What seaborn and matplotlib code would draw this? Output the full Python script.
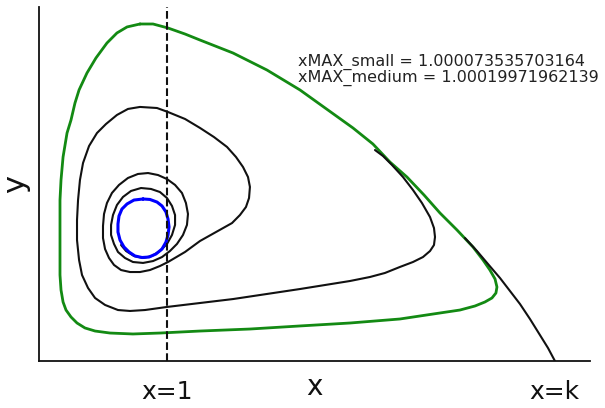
import numpy as np
import pandas as pd
import matplotlib
matplotlib.use("Agg")
import matplotlib.pyplot as plt
import seaborn as sns

# Carrying capacity and prey level of the vertical isocline
K = 4.03
X_ISO = 1.0

# Stable limit cycle (green)
cycle_x = [0.789, 0.891, 1.008, 1.141, 1.258, 1.516, 1.781, 2.039, 2.453, 2.609,
           2.742, 2.875, 3.008, 3.133, 3.266, 3.391, 3.469, 3.523, 3.563, 3.578,
           3.570, 3.539, 3.484, 3.406, 3.289, 3.078, 2.820, 2.430, 2.039, 1.648,
           1.258, 0.945, 0.734, 0.555, 0.438, 0.359, 0.297, 0.250, 0.211, 0.188,
           0.172, 0.164, 0.164, 0.164, 0.164, 0.172, 0.188, 0.219, 0.250, 0.281,
           0.313, 0.375, 0.445, 0.531, 0.609, 0.688, 0.789]
cycle_y = [2.856, 2.856, 2.822, 2.771, 2.720, 2.610, 2.466, 2.297, 1.975, 1.839,
           1.686, 1.559, 1.407, 1.254, 1.110, 0.966, 0.856, 0.771, 0.695, 0.627,
           0.576, 0.534, 0.500, 0.466, 0.432, 0.398, 0.356, 0.322, 0.297, 0.271,
           0.254, 0.237, 0.229, 0.237, 0.254, 0.280, 0.322, 0.373, 0.432, 0.500,
           0.602, 0.729, 0.941, 1.153, 1.364, 1.534, 1.729, 1.932, 2.042, 2.186,
           2.297, 2.441, 2.568, 2.695, 2.780, 2.831, 2.856]

# Trajectory spiralling inwards onto the small cycle (black)
spiral_x = [2.625, 2.688, 2.758, 2.844, 2.922, 2.992, 3.055, 3.086, 3.094, 3.086,
            3.055, 3.000, 2.922, 2.820, 2.703, 2.586, 2.430, 2.039, 1.516, 1.000,
            0.828, 0.711, 0.617, 0.516, 0.438, 0.383, 0.336, 0.313, 0.297, 0.297,
            0.305, 0.320, 0.344, 0.391, 0.453, 0.523, 0.609, 0.695, 0.789, 0.922,
            1.008, 1.141, 1.258, 1.367, 1.469, 1.539, 1.594, 1.633, 1.648, 1.641,
            1.617, 1.570, 1.508, 1.383, 1.258, 1.141, 1.008,
            0.945, 0.867, 0.789, 0.711, 0.641, 0.586, 0.547, 0.516, 0.500, 0.500,
            0.508, 0.531, 0.570, 0.625, 0.695, 0.773, 0.852, 0.930, 1.000, 1.063,
            1.117, 1.148, 1.164, 1.156, 1.125, 1.078, 1.023, 0.961, 0.891, 0.813,
            0.734, 0.672, 0.617, 0.586, 0.563, 0.563, 0.578, 0.609, 0.656, 0.719,
            0.797, 0.875, 0.945, 1.000, 1.039, 1.063, 1.063, 1.039, 1.000, 0.945,
            0.883, 0.813, 0.742, 0.680, 0.641]
spiral_y = [1.788, 1.737, 1.661, 1.559, 1.449, 1.339, 1.220, 1.127, 1.051, 0.983,
            0.932, 0.881, 0.839, 0.797, 0.746, 0.712, 0.678, 0.610, 0.525, 0.458,
            0.432, 0.424, 0.432, 0.475, 0.534, 0.619, 0.729, 0.856, 1.025, 1.195,
            1.364, 1.534, 1.678, 1.822, 1.932, 2.008, 2.085, 2.136, 2.153, 2.144,
            2.110, 2.051, 1.975, 1.898, 1.814, 1.729, 1.644, 1.559, 1.475, 1.381,
            1.305, 1.237, 1.169, 1.093, 1.017, 0.924, 0.839,
            0.805, 0.771, 0.754, 0.754, 0.771, 0.814, 0.873, 0.949, 1.042, 1.144,
            1.246, 1.339, 1.424, 1.492, 1.551, 1.585, 1.593, 1.576, 1.542, 1.492,
            1.424, 1.339, 1.246, 1.153, 1.068, 0.992, 0.932, 0.881, 0.847, 0.831,
            0.839, 0.873, 0.924, 0.992, 1.068, 1.153, 1.237, 1.322, 1.390, 1.441,
            1.466, 1.458, 1.432, 1.381, 1.314, 1.237, 1.153, 1.068, 0.992, 0.932,
            0.890, 0.873, 0.890, 0.932, 0.983]

# Trajectory leaving the cycle towards (K, 0) (black)
branch_x = [3.328, 3.422, 3.508, 3.602, 3.680, 3.758, 3.836, 3.914, 3.977, 4.031]
branch_y = [1.042, 0.932, 0.822, 0.703, 0.593, 0.483, 0.356, 0.220, 0.110, 0.000]

# Small inner cycle (blue)
inner_x = [0.813, 0.867, 0.922, 0.961, 0.992, 1.008, 1.016, 1.008, 0.992, 0.961,
           0.914, 0.859, 0.805, 0.750, 0.703, 0.664, 0.633, 0.617, 0.617, 0.625,
           0.648, 0.688, 0.742, 0.813]
inner_y = [1.373, 1.369, 1.347, 1.314, 1.263, 1.203, 1.136, 1.068, 1.008, 0.949,
           0.907, 0.881, 0.877, 0.890, 0.924, 0.966, 1.025, 1.093, 1.161, 1.229,
           1.288, 1.331, 1.364, 1.373]

tick_pos = [X_ISO, K]
tick_labels = ["x=1", "x=k"]
notes = ["xMAX_small = 1.000073535703164",
         "xMAX_medium = 1.00019971962139"]

sns.set_theme(style="white")
plt.rcParams["font.family"] = ["DejaVu Sans"]

fig = plt.figure(figsize=(6.05, 4.08), dpi=100)
ax = fig.add_axes([39 / 605, 47 / 408, 551 / 605, 354 / 408])


def curve(xs, ys):
    return pd.DataFrame({"x": xs, "y": ys})


line_kw = dict(sort=False, estimator=None, ax=ax,
               solid_joinstyle="round", solid_capstyle="round")
sns.lineplot(data=curve(cycle_x, cycle_y), x="x", y="y",
             color="#138a13", lw=2.0, **line_kw)
sns.lineplot(data=curve(spiral_x, spiral_y), x="x", y="y",
             color="#111111", lw=1.5, **line_kw)
sns.lineplot(data=curve(branch_x, branch_y), x="x", y="y",
             color="#111111", lw=1.5, **line_kw)
sns.lineplot(data=curve(inner_x, inner_y), x="x", y="y",
             color="#0000ff", lw=2.2, **line_kw)
ax.axvline(X_ISO, color="#111111", lw=1.5, ls="--", zorder=5)

ax.set_xlim(0, 4.305)
ax.set_ylim(0, 3.0)
ax.set_xticks(tick_pos)
ax.set_xticklabels(tick_labels, fontsize=18)
ax.set_yticks([])
ax.tick_params(axis="x", length=0, pad=14, colors="#111111")

ax.set_xlabel("x", fontsize=20, color="#111111")
ax.set_ylabel("y", fontsize=22, color="#111111")
ax.xaxis.set_label_coords(0.5, -0.035)
ax.yaxis.set_label_coords(-0.016, 0.5)

sns.despine(ax=ax)
for side in ("left", "bottom"):
    ax.spines[side].set_color("#111111")
    ax.spines[side].set_linewidth(1.3)

ax.text(2.02, 2.50, notes[0], fontsize=11.5, color="#222222",
        va="baseline", ha="left", clip_on=False)
ax.text(2.02, 2.364, notes[1], fontsize=11.5, color="#222222",
        va="baseline", ha="left", clip_on=False)

fig.savefig("out.png", dpi=100)
